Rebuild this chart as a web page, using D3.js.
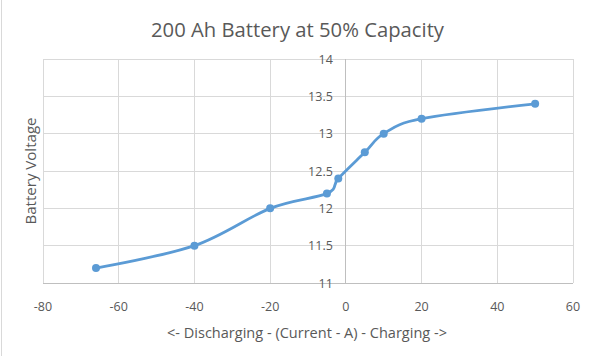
<!DOCTYPE html>
<html><head><meta charset="utf-8">
<script src="https://cdn.jsdelivr.net/npm/d3@7"></script>
<style>body{margin:0;background:#fff}svg{display:block}text{font-family:"Open Sans","Liberation Sans",sans-serif;fill:#595959}</style>
</head><body><svg id="c" width="597" height="356"></svg>
<script>
const current = [-66, -40, -20, -5, -2, 5, 10, 20, 50];
const voltage = [11.2, 11.5, 12.0, 12.2, 12.4, 12.75, 13.0, 13.2, 13.4];
const xTicks = [-80, -60, -40, -20, 0, 20, 40, 60];
const yTicks = [11, 11.5, 12, 12.5, 13, 13.5, 14];
const title = "200 Ah Battery at 50% Capacity";
const xTitle = "<- Discharging - (Current - A) - Charging ->";
const yTitle = "Battery Voltage";

const svg = d3.select("#c");
svg.append("rect").attr("width",597).attr("height",356).attr("fill","#fff");
svg.append("line").attr("x1",1.5).attr("x2",1.5).attr("y1",0).attr("y2",356).attr("stroke","#d9d9d9");
const x = d3.scaleLinear().domain([-80,60]).range([43,573]);
const y = d3.scaleLinear().domain([11,14]).range([283,59]);

const g = svg.append("g");
g.selectAll(".vg").data(xTicks).join("line").attr("x1",d=>x(d)).attr("x2",d=>x(d)).attr("y1",y(11)).attr("y2",y(14)).attr("stroke","#d9d9d9").attr("stroke-width",1).attr("shape-rendering","crispEdges");
g.selectAll(".hg").data(yTicks).join("line").attr("x1",x(-80)).attr("x2",x(60)).attr("y1",d=>y(d)).attr("y2",d=>y(d)).attr("stroke","#d9d9d9").attr("stroke-width",1).attr("shape-rendering","crispEdges");
g.append("line").attr("x1",x(0)).attr("x2",x(0)).attr("y1",y(11)).attr("y2",y(14)).attr("stroke","#bfbfbf").attr("shape-rendering","crispEdges");
g.append("line").attr("x1",x(-80)).attr("x2",x(60)).attr("y1",y(11)).attr("y2",y(11)).attr("stroke","#bfbfbf").attr("shape-rendering","crispEdges");

g.selectAll(".xt").data(xTicks).join("text").attr("x",d=>x(d)).attr("y",311).attr("text-anchor","middle").attr("font-size",12.5).text(d=>d);
g.selectAll(".yt").data(yTicks).join("text").attr("x",x(0)-13).attr("y",d=>y(d)+4.5).attr("text-anchor","end").attr("font-size",12.5).text(d=>d);

svg.append("text").attr("x",297.5).attr("y",37).attr("text-anchor","middle").attr("font-size",19.5).attr("textLength",293).attr("lengthAdjust","spacingAndGlyphs").text(title);
svg.append("text").attr("x",307).attr("y",338).attr("text-anchor","middle").attr("font-size",14.5).attr("textLength",280).attr("lengthAdjust","spacingAndGlyphs").text(xTitle);
svg.append("text").attr("transform","translate(36,171) rotate(-90)").attr("text-anchor","middle").attr("font-size",14).attr("textLength",107).attr("lengthAdjust","spacingAndGlyphs").text(yTitle);

const pts = current.map((c,i)=>[c,voltage[i]]);
const line = d3.line().x(d=>x(d[0])).y(d=>y(d[1])).curve(d3.curveCatmullRom.alpha(0));
svg.append("path").attr("d",line(pts)).attr("fill","none").attr("stroke","#5b9bd5").attr("stroke-width",2.8).attr("stroke-linecap","round");
svg.selectAll(".pt").data(pts).join("circle").attr("cx",d=>x(d[0])).attr("cy",d=>y(d[1])).attr("r",4).attr("fill","#5b9bd5");
</script></body></html>
